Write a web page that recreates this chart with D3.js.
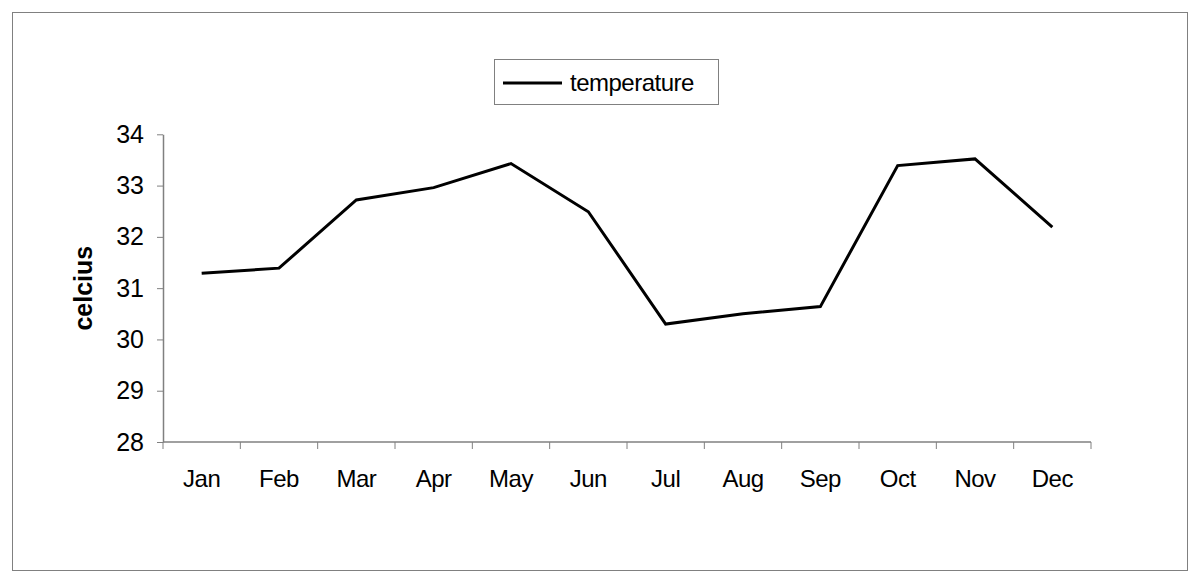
<!DOCTYPE html>
<html>
<head>
<meta charset="utf-8">
<script src="https://cdn.jsdelivr.net/npm/d3@7"></script>
<style>
  body { margin: 0; background: #fff; }
  text { font-family: "Liberation Sans", Arial, sans-serif; }
</style>
</head>
<body>
<div id="chart"></div>
<script>
const width = 1200;
const height = 583;

const months = ["Jan", "Feb", "Mar", "Apr", "May", "Jun", "Jul", "Aug", "Sep", "Oct", "Nov", "Dec"];
const temperature = [31.29, 31.39, 32.72, 32.96, 33.43, 32.49, 30.30, 30.50, 30.64, 33.39, 33.52, 32.19];
const yTicks = [28, 29, 30, 31, 32, 33, 34];

const plotLeft = 163, plotRight = 1091, plotTop = 134.3, plotBottom = 442;

let svg = d3.select("#chart")
  .append("svg")
  .attr("width", width)
  .attr("height", height)
  .attr("viewBox", [0, 0, width, height]);

// outer frame
svg.append("rect")
  .attr("x", 12.5)
  .attr("y", 12.5)
  .attr("width", 1175)
  .attr("height", 558)
  .attr("fill", "none")
  .attr("stroke", "#808080")
  .attr("stroke-width", 1);

let xScale = d3.scaleBand()
  .domain(months)
  .range([plotLeft, plotRight]);
let yScale = d3.scaleLinear()
  .domain([28, 34])
  .range([plotBottom, plotTop]);

// y axis
let yAxis = svg.append("g")
  .attr("transform", `translate(${plotLeft},0)`)
  .call(d3.axisLeft(yScale)
    .tickValues(yTicks)
    .tickFormat(d3.format("d"))
    .tickSize(6).tickPadding(13).tickSizeOuter(0));
yAxis.select(".domain").attr("stroke", "#808080").attr("stroke-width", 1.5);
yAxis.selectAll(".tick line").attr("stroke", "#808080");
yAxis.selectAll(".tick text")
  .attr("font-size", 25)
  .attr("font-family", "Liberation Sans, Arial, sans-serif")
  .attr("fill", "#000");

// x axis: ticks at band boundaries
svg.append("line")
  .attr("x1", plotLeft).attr("x2", plotRight)
  .attr("y1", plotBottom).attr("y2", plotBottom)
  .attr("stroke", "#808080")
  .attr("stroke-width", 1.5);
svg.append("g")
  .selectAll("line")
  .data(months.concat(["end"]))
  .join("line")
    .attr("x1", (d, i) => i < months.length ? xScale(d) : plotRight)
    .attr("x2", (d, i) => i < months.length ? xScale(d) : plotRight)
    .attr("y1", plotBottom)
    .attr("y2", plotBottom + 7)
    .attr("stroke", "#808080");
svg.append("g")
  .selectAll("text")
  .data(months)
  .join("text")
    .attr("x", d => xScale(d) + xScale.bandwidth() / 2)
    .attr("y", 487)
    .attr("text-anchor", "middle")
    .attr("font-size", 24)
    .attr("letter-spacing", -0.5)
    .text(d => d);

// axis title
svg.append("text")
  .attr("transform", `translate(92,${(plotTop + plotBottom) / 2}) rotate(-90)`)
  .attr("text-anchor", "middle")
  .attr("font-size", 25)
  .attr("font-weight", "bold")
  .text("celcius");

// line
let line = d3.line()
  .x((d, i) => xScale(months[i]) + xScale.bandwidth() / 2)
  .y(d => yScale(d));
svg.append("path")
  .datum(temperature)
  .attr("d", line)
  .attr("fill", "none")
  .attr("stroke", "#000")
  .attr("stroke-width", 3)
  .attr("stroke-linejoin", "miter");

// legend
let legend = svg.append("g");
legend.append("rect")
  .attr("x", 494.5).attr("y", 59.5)
  .attr("width", 224).attr("height", 45)
  .attr("fill", "#fff")
  .attr("stroke", "#808080");
legend.append("line")
  .attr("x1", 503).attr("x2", 562)
  .attr("y1", 83).attr("y2", 83)
  .attr("stroke", "#000")
  .attr("stroke-width", 3);
legend.append("text")
  .attr("x", 570).attr("y", 91)
  .attr("font-size", 24)
  .attr("letter-spacing", -0.5)
  .text("temperature");
</script>
</body>
</html>
